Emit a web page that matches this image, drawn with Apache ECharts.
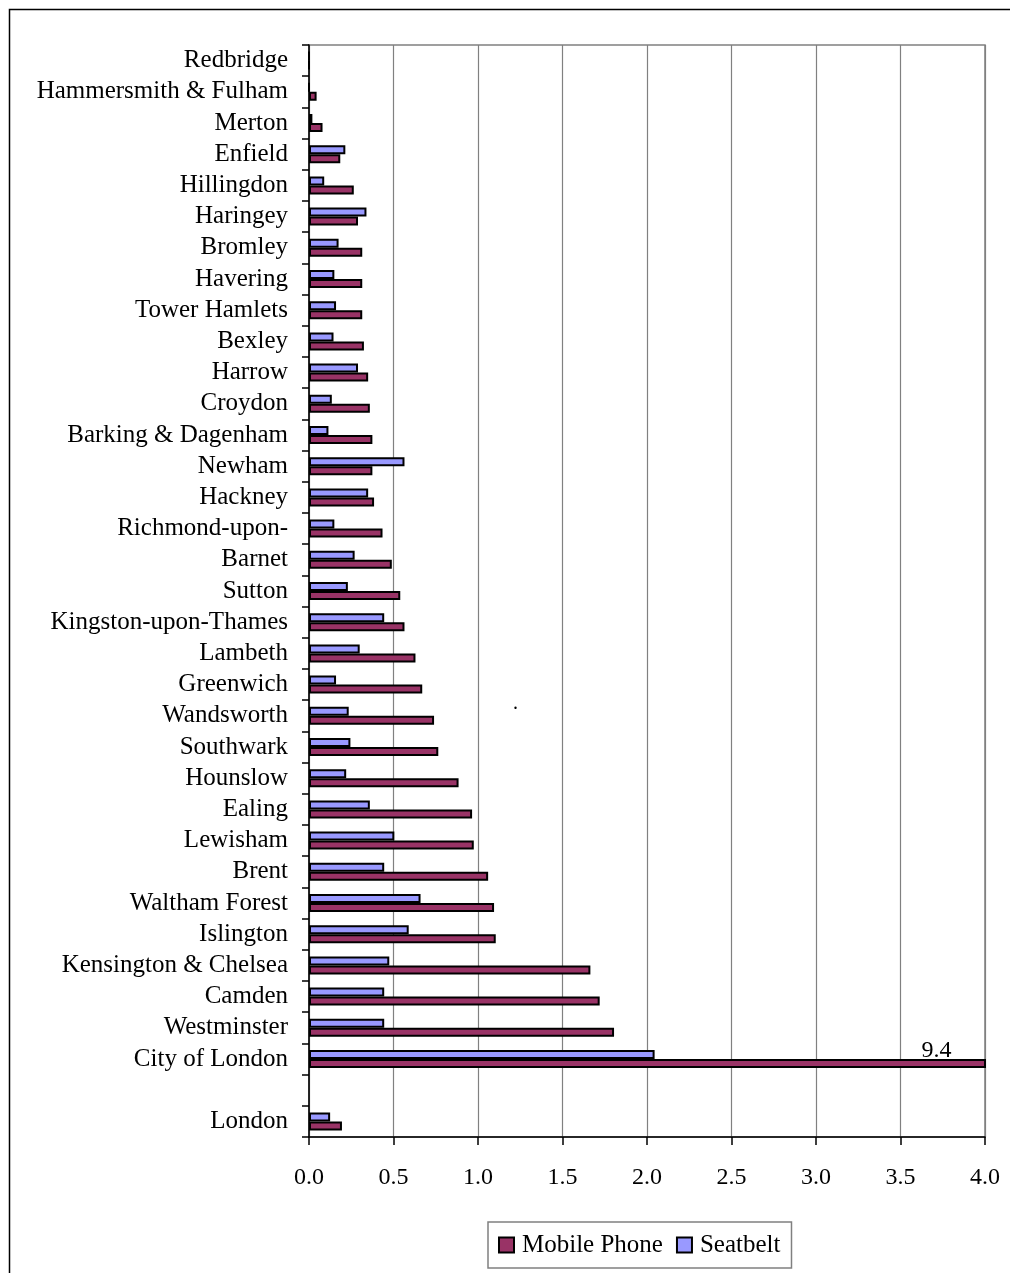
<!DOCTYPE html>
<html>
<head>
<meta charset="utf-8">
<script src="https://cdn.jsdelivr.net/npm/echarts@6/dist/echarts.min.js"></script>
<style>
  html, body { margin: 0; padding: 0; background: #fff; }
  #chart { width: 1010px; height: 1273px; }
</style>
</head>
<body>
<div id="chart"></div>
<script>
// Boroughs, top to bottom; the empty entry separates City of London from the London total
const boroughs = [
  'Redbridge', 'Hammersmith & Fulham', 'Merton', 'Enfield', 'Hillingdon', 'Haringey',
  'Bromley', 'Havering', 'Tower Hamlets', 'Bexley', 'Harrow', 'Croydon',
  'Barking & Dagenham', 'Newham', 'Hackney', 'Richmond-upon-', 'Barnet', 'Sutton',
  'Kingston-upon-Thames', 'Lambeth', 'Greenwich', 'Wandsworth', 'Southwark', 'Hounslow',
  'Ealing', 'Lewisham', 'Brent', 'Waltham Forest', 'Islington', 'Kensington & Chelsea',
  'Camden', 'Westminster', 'City of London', '', 'London'
];

const mobilePhone = [
  0, 0.045, 0.08, 0.185, 0.265, 0.29,
  0.315, 0.315, 0.315, 0.325, 0.35, 0.36,
  0.375, 0.375, 0.385, 0.435, 0.49, 0.54,
  0.565, 0.63, 0.67, 0.74, 0.765, 0.885,
  0.965, 0.975, 1.06, 1.095, 1.105, 1.665,
  1.72, 1.805, 9.4, null, 0.195
];

const seatbelt = [
  0, 0, 0.02, 0.215, 0.09, 0.34,
  0.175, 0.15, 0.16, 0.145, 0.29, 0.135,
  0.115, 0.565, 0.35, 0.15, 0.27, 0.23,
  0.445, 0.3, 0.16, 0.235, 0.245, 0.22,
  0.36, 0.505, 0.445, 0.66, 0.59, 0.475,
  0.445, 0.445, 2.045, null, 0.125
];

const xMin = 0;
const xMax = 4;
const xStep = 0.5;

const serif = '"Liberation Serif", "Times New Roman", serif';
const maroon = '#993366';
const lilac = '#9999FF';

const chart = echarts.init(document.getElementById('chart'), null, { renderer: 'canvas' });

// values beyond the axis end are clipped; their true value is printed above the bar
const phoneData = mobilePhone.map(v => (v != null && v > xMax)
  ? { value: v, label: { show: true } }
  : v);

chart.setOption({
  backgroundColor: '#ffffff',
  animation: false,
  textStyle: { fontFamily: serif, color: '#000' },
  graphic: [
    {
      type: 'rect',
      shape: { x: 9.5, y: 9.5, width: 1100, height: 1400 },
      style: { fill: 'none', stroke: '#000', lineWidth: 1.5 },
      silent: true, z: -1
    },
    {
      type: 'text',
      left: 513, top: 694,
      style: { text: '.', font: '20px ' + serif, fill: '#000' },
      silent: true
    }
  ],
  grid: {
    left: 309, top: 45, right: 25, bottom: 136,
    show: true, borderColor: '#808080', borderWidth: 1.5,
    containLabel: false
  },
  legend: {
    data: ['Mobile Phone', 'Seatbelt'],
    left: 488, top: 1222,
    orient: 'horizontal',
    padding: [10, 11, 10, 10],
    itemGap: 13,
    itemWidth: 15, itemHeight: 15,
    icon: 'rect',
    borderColor: '#808080', borderWidth: 1.5,
    backgroundColor: '#fff',
    textStyle: { fontFamily: serif, fontSize: 25, color: '#000', lineHeight: 26, padding: [0, 0, 0, 3] }
  },
  xAxis: {
    type: 'value',
    min: xMin, max: xMax, interval: xStep,
    axisLine: { show: true, lineStyle: { color: '#000', width: 1.5 } },
    axisTick: { show: true, length: 8, lineStyle: { color: '#000', width: 1.5 } },
    axisLabel: {
      margin: 29,
      fontFamily: serif, fontSize: 24, color: '#000',
      formatter: v => v.toFixed(1)
    },
    splitLine: { show: true, lineStyle: { color: '#808080', width: 1.2 } }
  },
  yAxis: {
    type: 'category',
    data: boroughs,
    inverse: true,
    axisLine: { show: true, lineStyle: { color: '#000', width: 1.5 } },
    axisTick: { show: true, length: 7, interval: 0, alignWithLabel: false, lineStyle: { color: '#000', width: 1.5 } },
    axisLabel: {
      interval: 0, margin: 21, fontFamily: serif, fontSize: 25, color: '#000',
      padding: [6, 0, 0, 0]
    },
    splitLine: { show: false }
  },
  series: [
    {
      name: 'Seatbelt',
      type: 'bar',
      data: seatbelt,
      barWidth: 9,
      barGap: '0%',
      itemStyle: { color: lilac, borderColor: '#000', borderWidth: 2 }
    },
    {
      name: 'Mobile Phone',
      type: 'bar',
      data: phoneData,
      barWidth: 9,
      barGap: '0%',
      clip: true,
      itemStyle: { color: maroon, borderColor: '#000', borderWidth: 2 },
      label: {
        show: false,
        position: ['92.7%', 4],
        align: 'center',
        verticalAlign: 'bottom',
        fontFamily: serif, fontSize: 24, color: '#000',
        formatter: p => String(p.value)
      }
    }
  ]
});
</script>
</body>
</html>
